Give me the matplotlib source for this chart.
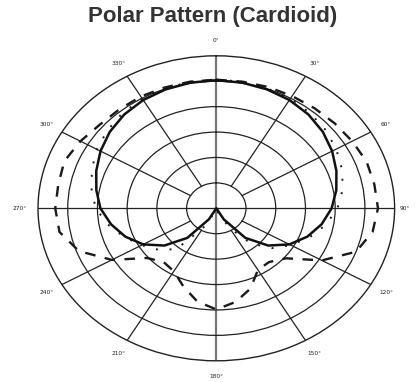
import numpy as np
import matplotlib
matplotlib.use('Agg')
import matplotlib.pyplot as plt

# Angles (degrees, clockwise from front) and level readings for each trace
angulos = np.arange(0, 361, 10)

curva_solida = [25.2, 25.1, 24.9, 24.6, 24.1, 23.4, 22.5, 21.5, 20.5, 19.4,
                18.0, 16.3, 14.2, 11.4, 7.6, 2.5, 0.0, 0.0, 0.0, 0.0,
                0.0, 2.5, 7.6, 11.4, 14.2, 16.3, 18.0, 19.5, 20.5, 21.5,
                22.5, 23.4, 24.1, 24.6, 24.9, 25.1, 25.2]

curva_pontilhada = [25.3, 25.3, 25.1, 24.9, 24.5, 24.0, 23.3, 22.5, 21.6, 20.4,
                    18.7, 16.7, 14.5, 12.2, 9.0, 4.5, 1.0, 0.0, 0.0, 0.0,
                    1.0, 4.5, 10.5, 12.7, 14.5, 16.5, 18.5, 20.3, 21.3, 22.3,
                    23.2, 23.9, 24.5, 24.9, 25.1, 25.3, 25.3]

curva_tracejada = [25.3, 25.3, 25.4, 25.5, 25.7, 26.0, 26.4, 26.9, 27.0, 27.2,
                   26.7, 25.0, 20.5, 15.3, 13.8, 14.0, 16.8, 18.7, 19.9, 18.6,
                   16.3, 14.3, 13.8, 15.2, 20.3, 24.6, 26.8, 27.1, 27.0, 27.2,
                   26.4, 25.6, 25.4, 25.4, 25.3, 25.3, 25.3]

aneis = [5, 10, 15, 20, 25]
raio_max = 30
rotulos_angulo = list(range(0, 360, 30))

cor_grade = '#222222'
theta = np.deg2rad(angulos)

fig = plt.figure(figsize=(4.15, 3.82), dpi=100)
ax = fig.add_axes([0.0916, 0.0555, 0.8593, 0.7984], projection='polar')
ax.set_aspect('auto')
ax.set_theta_zero_location('N')
ax.set_theta_direction(-1)

# Grade: anéis e raios
ax.set_ylim(0, raio_max)
ax.set_yticks(aneis)
ax.set_yticklabels([])
ax.set_xticks([])
ax.yaxis.grid(True, color=cor_grade, linewidth=0.9)
ax.xaxis.grid(False)
ax.spines['polar'].set_color(cor_grade)
ax.spines['polar'].set_linewidth(1.0)

for a in rotulos_angulo:
    t = np.deg2rad(a)
    if a in (0, 180):
        ax.plot([t, t], [0, raio_max], color='#777777', linewidth=1.6, zorder=1)
    elif a in (90, 270):
        ax.plot([t, t], [0, raio_max], color=cor_grade, linewidth=0.9, zorder=1)
    else:
        ax.plot([t, t], [aneis[0], raio_max], color=cor_grade, linewidth=0.9, zorder=1)
    r_txt = 31.7 if a == 90 else 33
    ax.text(t, r_txt, f'{a}°', ha='center', va='center', fontsize=4.2,
            color='#222222', clip_on=False)

# Curvas
ax.plot(theta, curva_tracejada, color='#1a1a1a', linewidth=1.7,
        linestyle=(0, (4.5, 4)), zorder=3)
ax.plot(theta, curva_pontilhada, color='#1a1a1a', linewidth=1.4,
        linestyle=(0, (1, 6)), zorder=3)
ax.plot(theta, curva_solida, color='#111111', linewidth=1.8, zorder=4)
ax.set_ylim(0, raio_max)

fig.text(0.513, 0.958, 'Polar Pattern (Cardioid)', ha='center', va='center',
         fontsize=16, fontweight='bold', family='Liberation Sans', color='#333333')

plt.savefig('out.png', dpi=100)
